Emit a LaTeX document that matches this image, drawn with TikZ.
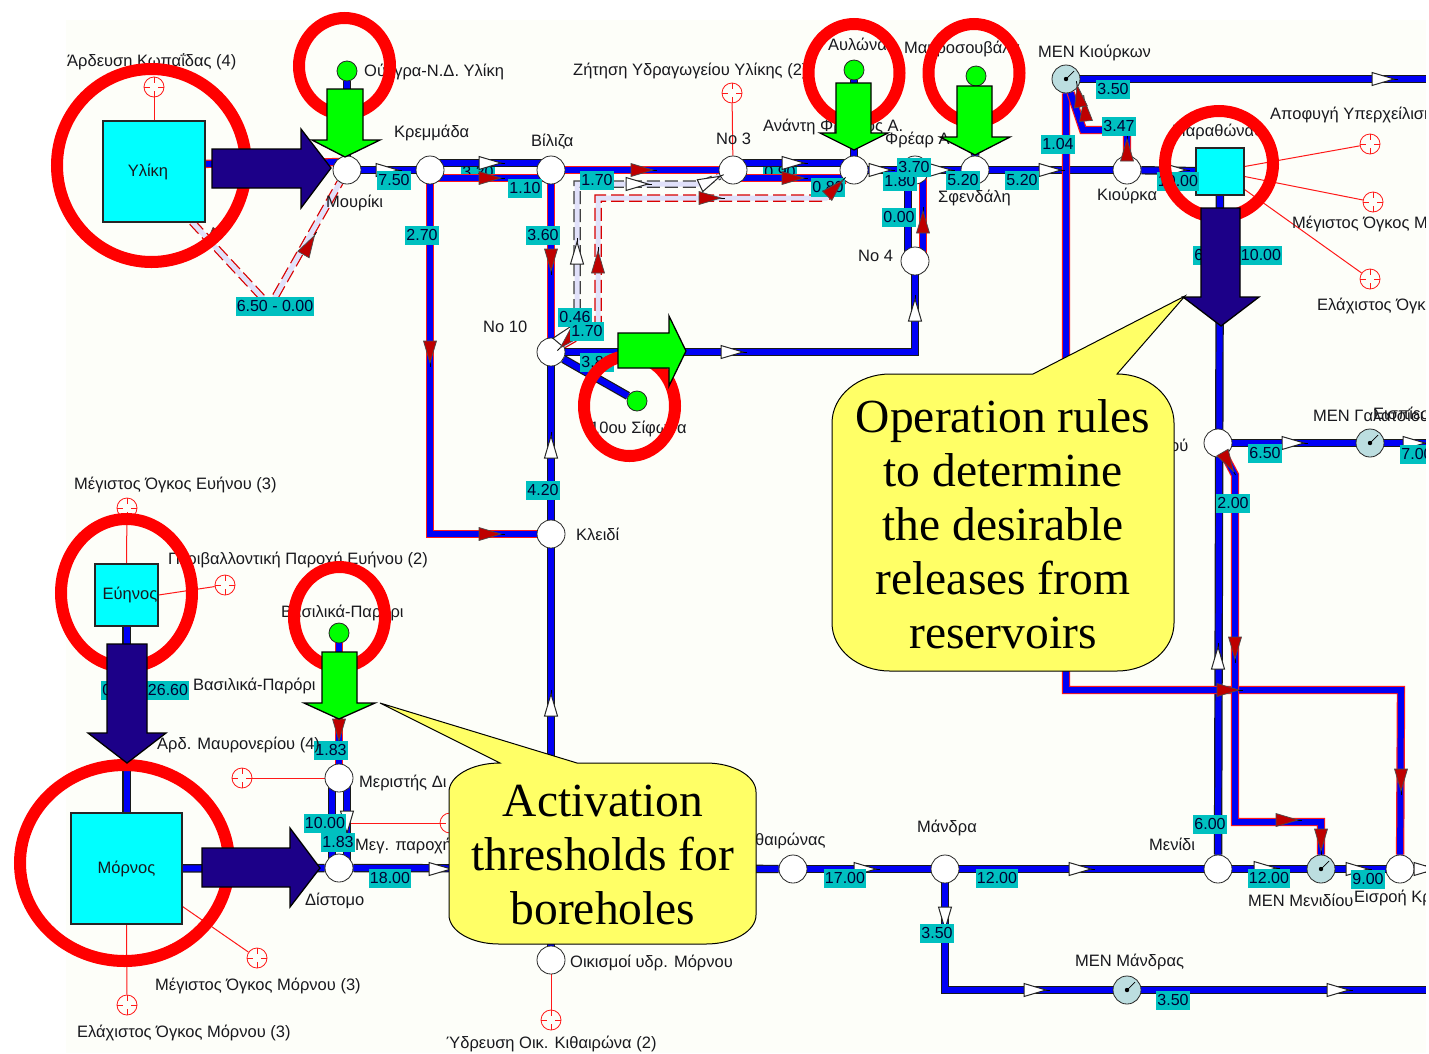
\documentclass[tikz,border=0pt]{standalone}
\usepackage{fontspec}
\setmainfont{Liberation Sans}
\newfontfamily\calloutfont{Liberation Serif}
\usetikzlibrary{backgrounds}
\definecolor{pblue}{RGB}{0,0,245}
\definecolor{pnavy}{RGB}{28,0,136}
\definecolor{pgreen}{RGB}{0,255,0}
\definecolor{pcyan}{RGB}{0,255,255}
\definecolor{pteal}{RGB}{0,192,192}
\definecolor{ppanel}{RGB}{253,254,249}
\definecolor{plav}{RGB}{225,225,250}
\definecolor{pmen}{RGB}{188,222,224}
\definecolor{ptipred}{RGB}{190,0,0}
\definecolor{pyellow}{RGB}{255,255,102}
\definecolor{ptext}{RGB}{25,25,30}
\pgfdeclarelayer{panel}\pgfdeclarelayer{under}\pgfdeclarelayer{pipes}
\pgfdeclarelayer{rings}\pgfdeclarelayer{arrows}\pgfdeclarelayer{callouts}
\pgfsetlayers{panel,under,pipes,main,rings,arrows,callouts}
\tikzset{
  junction/.style={circle,draw=black!85,fill=white,line width=.8pt,minimum size=28pt,inner sep=0pt},
  well/.style={circle,draw=black!85,fill=pgreen,line width=.8pt,minimum size=20pt,inner sep=0pt},
  menode/.style={circle,draw=black!85,fill=pmen,line width=.8pt,minimum size=28pt,inner sep=0pt,
    path picture={\fill[black] (path picture bounding box.center) circle (2.2pt);
      \draw[black,line width=.7pt] (path picture bounding box.center) -- ++(8pt,8pt);}},
  demand/.style={circle,draw=red!90!white,fill=ppanel,line width=.8pt,minimum size=20pt,inner sep=0pt,
    path picture={\draw[red!90!white,line width=.8pt]
      (path picture bounding box.north) -- ++(0,-6pt)
      (path picture bounding box.south) -- ++(0,6pt)
      (path picture bounding box.east) -- ++(-6pt,0)
      (path picture bounding box.west) -- ++(6pt,0);}},
  reservoir/.style={rectangle,draw=black!85,fill=pcyan,line width=1.1pt,inner sep=0pt,text=ptext,font=\fontsize{16.5}{19}\selectfont},
  bpipe/.style={draw=black!90,line width=1.2pt,double=pblue,double distance=6pt,line join=miter},
  rpipe/.style={draw=red!90!white,line width=1.2pt,double=pblue,double distance=6pt,line join=miter},
  dred/.style={preaction={draw=red!85!black,line width=7.5pt,dash pattern=on 13pt off 5pt},draw=plav,line width=5pt},
  dblack/.style={preaction={draw=black!75,line width=7.5pt,dash pattern=on 13pt off 5pt},draw=plav,line width=5pt},
  thin red/.style={draw=red!90!white,line width=1pt},
  ringline/.style={draw=red,line width=12pt},
  bignavy/.style={fill=pnavy,draw=black,line width=1.3pt,line join=miter},
  biggreen/.style={fill=pgreen,draw=black,line width=1.3pt,line join=miter},
  bubble/.style={fill=pyellow,draw=black,line width=1pt,line join=miter},
  bubbletext/.style={font=\calloutfont\fontsize{47.5}{54}\selectfont,align=center,inner sep=0pt,text=black},
  valbox/.style={fill=pteal,inner xsep=1pt,inner ysep=0pt,minimum height=19pt,text=black!80!blue,font=\fontsize{16}{17}\selectfont},
  lab/.style={inner sep=0pt,anchor=west,text=ptext,yshift=-1pt,font=\fontsize{16.5}{19}\selectfont},
  pics/wtip/.style={code={
    \draw[black,line width=.8pt] (8,0) -- (15,0);
    \draw[fill=white,draw=black!85,line width=1pt,line join=miter] (-11,-6.5) -- (-11,6.5) -- (11,0) -- cycle;}},
  pics/rtip/.style={code={
    \draw[black,line width=.8pt] (8,0) -- (15,0);
    \draw[fill=ptipred,draw=black!70,line width=.7pt,line join=miter] (-11,-6.5) -- (-11,6.5) -- (11,0) -- cycle;}},
}
\newcommand\val[3]{\node[valbox] (v-#1-#2) at (#1,#2) {#3};}
\newcommand\lbl[3]{\node[lab] (l-#1-#2) at (#1,#2) {#3};}
\newcommand\wt[3]{\pic[rotate=#3] at (#1,#2) {wtip};}
\newcommand\rt[3]{\pic[rotate=#3] at (#1,#2) {rtip};}
\begin{document}
\begin{tikzpicture}[x=1pt,y=-1pt]
\useasboundingbox (0,0) rectangle (1429,1053);
\begin{pgfonlayer}{panel}
  \fill[ppanel] (66,20) rectangle (1426,1053);
\end{pgfonlayer}

% ---------- hydrosystem nodes
\node[reservoir,minimum width=102pt,minimum height=101pt] (yliki) at (154,171.5) {\raisebox{-2pt}{Υλίκη}\kern12pt};
\node[reservoir,minimum width=48pt,minimum height=47pt] (marathon) at (1220,171.5) {};
\node[reservoir,minimum width=63pt,minimum height=62pt] (evinos) at (126.5,595) {\hspace{7pt}\raisebox{-2pt}{Εύηνος}};
\node[reservoir,minimum width=111pt,minimum height=111pt] (mornos) at (126.5,868.5) {Μόρνος};

\node[junction] (mouriki) at (347,170) {};
\node[junction] (kremmada) at (430,170) {};
\node[junction] (vilitsa) at (551,170) {};
\node[junction] (no3) at (733,170) {};
\node[junction] (anant) at (854,170) {};
\node[junction] (frear) at (915,170) {};
\node[junction] (sfendali) at (975,170) {};
\node[junction] (kiourka) at (1127,170) {};
\node[junction] (no4) at (915,261) {};
\node[junction] (no10) at (551,352) {};
\node[junction] (kleidi) at (551,534) {};
\node[junction] (psyx) at (1218,443) {};
\node[junction] (meristis) at (339,778) {};
\node[junction] (distomo) at (339,868) {};
\node[junction] (kith) at (793,869) {};
\node[junction] (mandra) at (945,869) {};
\node[junction] (menidi) at (1218,869) {};
\node[junction] (eisroi) at (1400,869) {};
\node[junction] (oikis) at (551,960) {};

\node[menode] (menkiourk) at (1066,79) {};
\node[menode] (mengal) at (1370,443) {};
\node[menode] (menmen) at (1321,869) {};
\node[menode] (menmand) at (1127,990) {};

\node[well] (wouggra) at (347,71) {};
\node[well] (wavlon) at (854,70) {};
\node[well] (wmavro) at (976,76) {};
\node[well] (wsifon) at (637,401) {};
\node[well] (wvasil) at (339,633) {};

\node[demand] (dkop) at (154,87) {};
\node[demand] (dzit) at (732,93) {};
\node[demand] (dapof) at (1370,144) {};
\node[demand] (dmaxm) at (1373,202) {};
\node[demand] (dminm) at (1370,279) {};
\node[demand] (dmaxe) at (127,508) {};
\node[demand] (dper) at (225,585) {};
\node[demand] (dmavr) at (242,778) {};
\node[demand] (dmaxmor) at (257,958) {};
\node[demand] (dminmor) at (127,1005) {};
\node[demand] (dmeg) at (450,823) {};
\node[demand] (dydr) at (551,1020) {};

\coordinate (rightKiourk) at (1432,79);
\coordinate (rightGal) at (1432,443);
\coordinate (rightEis) at (1432,869);
\coordinate (rightMand) at (1432,990);
\coordinate (bendA) at (430,534);
\coordinate (bendB) at (915,352);
\coordinate (bendC) at (945,990);
\coordinate (bendD) at (1066,690);
\coordinate (bendE) at (1401,690);
\coordinate (bendF1) at (1127,130);
\coordinate (bendF2) at (1083,130);
\coordinate (bendG1) at (1235,475);
\coordinate (bendG2) at (1235,822);
\coordinate (bendG3) at (1321,822);
\coordinate (dashA1) at (577,325);
\coordinate (dashA2) at (577,184);
\coordinate (dashA3) at (702,184);
\coordinate (dashB1) at (598,325);
\coordinate (dashB2) at (598,198);
\coordinate (dashB3) at (826,198);
\coordinate (dashC) at (270,306);
\coordinate (dashY) at (192,222);

% ---------- pipes, which lie under the nodes
\begin{pgfonlayer}{under}
  \val{478}{172}{3.20}
  \val{780}{172}{0.90}
\end{pgfonlayer}
\begin{pgfonlayer}{pipes}
  % thin demand lines
  \draw[thin red] (yliki.north) -- (dkop);
  \draw[thin red] (no3) -- (dzit);
  \draw[thin red] ([yshift=5pt]marathon.east) -- (dapof);
  \draw[thin red] ([yshift=-5pt]marathon.east) -- (dmaxm);
  \draw[thin red] ([yshift=-18pt]marathon.east) -- (dminm);
  \draw[thin red] (evinos.north) -- (dmaxe);
  \draw[thin red] (evinos.east) -- (dper);
  \draw[thin red] (meristis) -- (dmavr);
  \draw[thin red] (mornos.south) -- (dminmor);
  \draw[thin red] ([yshift=-38pt]mornos.east) -- (dmaxmor);
  \draw[thin red] ([xshift=8pt,yshift=45pt]distomo.center) -- (dmeg);
  \draw[thin red] (oikis) -- (dydr);
  % dashed pipes
  \draw[dred] (dashY) -- (dashC) -- (mouriki);
  \draw[dblack] (no10) -- (dashA1) -- (dashA2) -- (dashA3) -- (no3);
  \draw[dred] (no10) -- (dashB1) -- (dashB2) -- (dashB3) -- (anant);
  % plain pipes
  \draw[bpipe] (mouriki) -- (kremmada);
  \draw[bpipe] ([yshift=7pt]kremmada.center) -- ([yshift=7pt]vilitsa.center);
  \draw[bpipe] ([yshift=7pt]no3.center) -- ([yshift=7pt]anant.center);
  \draw[bpipe] (anant) -- (frear);
  \draw[bpipe] (frear) -- (sfendali);
  \draw[bpipe] (sfendali) -- (kiourka);
  \draw[bpipe] (kiourka) -- (marathon);
  \draw[bpipe] (wouggra) -- (mouriki);
  \draw[bpipe] (wavlon) -- (anant);
  \draw[bpipe] (wmavro) -- (sfendali);
  \draw[bpipe] (no10) -- (bendB) -- (no4);
  \draw[bpipe] ([xshift=-7pt]no4.center) -- ([xshift=-7pt]frear.center);
  \draw[bpipe] (no10) -- (wsifon);
  \draw[bpipe] (no10) -- (kleidi);
  \draw[bpipe] (kleidi) -- (oikis);
  \draw[bpipe] (menkiourk) -- (rightKiourk);
  \draw[bpipe] (marathon) -- (menidi);
  \draw[bpipe] (psyx) -- (mengal);
  \draw[bpipe] (mengal) -- (rightGal);
  \draw[bpipe] (evinos) -- (mornos);
  \draw[bpipe] (mornos) -- (distomo);
  \draw[bpipe] (distomo) -- (kith);
  \draw[bpipe] (kith) -- (mandra);
  \draw[bpipe] (mandra) -- (menidi);
  \draw[bpipe] (menidi) -- (menmen);
  \draw[bpipe] (menmen) -- (eisroi);
  \draw[bpipe] (eisroi) -- (rightEis);
  \draw[bpipe] (mandra) -- (bendC) -- (menmand);
  \draw[bpipe] (menmand) -- (rightMand);
  \draw[bpipe] ([xshift=-7pt]meristis.center) -- ([xshift=-7pt]distomo.center);
  \draw[bpipe] ([xshift=8pt]meristis.center) -- ([xshift=8pt]distomo.center);
  % pipes with a red edge
  \draw[rpipe] ([yshift=7pt]yliki.center) -- ([yshift=8pt]mouriki.center);
  \draw[rpipe] ([yshift=-8pt]kremmada.center) -- ([yshift=-8pt]vilitsa.center);
  \draw[rpipe] (vilitsa) -- (no3);
  \draw[rpipe] ([yshift=-8pt]no3.center) -- ([yshift=-8pt]anant.center);
  \draw[rpipe] (kremmada) -- (bendA) -- (kleidi);
  \draw[rpipe] (vilitsa) -- (no10);
  \draw[rpipe] ([xshift=8pt]no4.center) -- ([xshift=8pt]frear.center);
  \draw[rpipe] (wvasil) -- (meristis);
  \draw[rpipe] (menkiourk) -- (bendD) -- (bendE) -- (eisroi);
  \draw[rpipe] (kiourka) -- (bendF1) -- (bendF2) -- (menkiourk);
  \draw[rpipe] (psyx) -- (bendG1) -- (bendG2) -- (bendG3) -- (menmen);
\end{pgfonlayer}

% ---------- small flow arrowheads
\wt{387}{170}{0}\wt{490}{163}{0}\wt{793}{163}{0}\wt{880}{170}{0}\wt{940}{170}{0}\wt{1050}{170}{0}
\wt{1175}{170}{0}\wt{1383}{79}{0}\wt{577}{253}{90}\wt{637}{184}{0}\wt{710}{181}{25}\wt{565}{334}{50}
\wt{732}{352}{0}\wt{915}{310}{90}\wt{551}{447}{90}\wt{551}{705}{90}\wt{1293}{443}{0}\wt{1414}{443}{0}
\wt{1218}{658}{90}\wt{440}{869}{0}\wt{865}{869}{0}\wt{1080}{869}{0}\wt{1265}{868}{0}\wt{1357}{869}{0}
\wt{1425}{869}{0}\wt{945}{918}{-90}\wt{1035}{990}{0}\wt{1338}{990}{0}\wt{347}{822}{-90}
\rt{490}{178}{0}\rt{642}{170}{0}\rt{793}{178}{0}\rt{430}{352}{-90}\rt{490}{534}{0}\rt{551}{260}{-90}
\rt{710}{198}{0}\rt{598}{262}{90}\rt{568}{340}{-135}\rt{309}{245}{60}\rt{211}{240}{-130}
\rt{923}{222}{90}\rt{1127}{150}{90}\rt{1085}{110}{95}\rt{1079}{96}{100}\rt{1228}{690}{0}\rt{1401}{780}{-90}
\rt{1235}{648}{-90}\rt{1287}{820}{0}\rt{1321}{840}{-90}\rt{1228}{462}{-60}\rt{339}{730}{-90}

% ---------- values
\val{394}{180}{7.50}\val{525}{188}{1.10}\val{597}{180}{1.70}\val{828}{187}{0.80}\val{900}{181}{1.80}
\val{914}{167}{3.70}\val{963}{180}{5.20}\val{1022}{180}{5.20}\val{1113}{89}{3.50}\val{1119}{126}{3.47}
\val{1058}{144}{1.04}\val{1178}{181}{10.00}\val{1210}{255}{6.50}\val{1261}{255}{10.00}\val{1265}{453}{6.50}
\val{1417}{454}{7.00}\val{1233}{503}{2.00}\val{1210}{824}{6.00}\val{1269}{878}{12.00}\val{1368}{879}{9.00}
\val{1173}{1000}{3.50}\val{997}{878}{12.00}\val{845}{878}{17.00}\val{937}{933}{3.50}\val{390}{878}{18.00}
\val{325}{823}{10.00}\val{338}{842}{1.83}\val{331}{750}{1.83}\val{168}{690}{26.60}\val{118}{690}{0.00}
\val{422}{235}{2.70}\val{543}{235}{3.60}\val{543}{490}{4.20}\val{575}{317}{0.46}\val{587}{331}{1.70}
\val{597}{362}{3.80}\val{275}{306}{6.50 - 0.00}\val{899}{217}{0.00}
\rt{835}{188}{45}

% ---------- labels
\lbl{67}{61}{Άρδευση Κωπαΐδας (4)}
\lbl{364}{71}{Ούγγρα-Ν.Δ. Υλίκη}
\lbl{394}{132}{Κρεμμάδα}
\lbl{326}{202}{Μουρίκι}
\lbl{531}{141}{Βίλιζα}
\lbl{573}{70}{Ζήτηση Υδραγωγείου Υλίκης (2)}
\lbl{716}{138}{No 3}
\lbl{828}{45}{Αυλώνας}
\lbl{763}{126}{Ανάντη Φρέατος Α.}
\lbl{885}{139}{Φρέαρ Α}
\lbl{904}{48}{Μαυροσουβάλα}
\lbl{1038}{52}{ΜΕΝ Κιούρκων}
\lbl{1270}{114}{Αποφυγή Υπερχείλισης}
\lbl{1172}{131}{Μαραθώνας}
\lbl{1097}{195}{Κιούρκα}
\lbl{938}{197}{Σφενδάλη}
\lbl{1292}{223}{Μέγιστος Όγκος Μαραθώνα}
\lbl{1317}{305}{Ελάχιστος Όγκος Μαραθώνα}
\lbl{858}{255}{No 4}
\lbl{483}{326}{No 10}
\lbl{590}{428}{10ου Σίφωνα}
\lbl{576}{533}{Κλειδί}
\lbl{1170}{444}{ού}
\lbl{1313}{414}{ΜΕΝ Γαλατσίου}
\lbl{1373}{414}{Εισπίεσή}
\lbl{74}{484}{Μέγιστος Όγκος Ευήνου (3)}
\lbl{168}{559}{Περιβαλλοντική Παροχή Ευήνου (2)}
\lbl{281}{612}{Βασιλικά-Παρόρι}
\lbl{193}{685}{Βασιλικά-Παρόρι}
\lbl{157}{744}{Αρδ. Μαυρονερίου (4)}
\lbl{359}{782}{Μεριστής Δι}
\lbl{355}{845}{Μεγ. παροχή}
\lbl{305}{900}{Δίστομο}
\lbl{155}{985}{Μέγιστος Όγκος Μόρνου (3)}
\lbl{77}{1032}{Ελάχιστος Όγκος Μόρνου (3)}
\lbl{570}{962}{Οικισμοί υδρ. Μόρνου}
\lbl{446}{1043}{Ύδρευση Οικ. Κιθαιρώνα (2)}
\lbl{755}{840}{θαιρώνας}
\lbl{917}{827}{Μάνδρα}
\lbl{1149}{843}{Μενίδι}
\lbl{1248}{899}{ΜΕΝ Μενιδίου}
\lbl{1354}{897}{Εισροή Κρ}
\lbl{1075}{961}{ΜΕΝ Μάνδρας}

% ---------- red rings
\begin{pgfonlayer}{rings}
  \draw[ringline] (151.5,165.5) ellipse [x radius=94.5pt,y radius=96.5pt];
  \draw[ringline] (344.5,66) ellipse [x radius=45.5pt,y radius=48pt];
  \draw[ringline] (854,73) ellipse [x radius=45.5pt,y radius=49pt];
  \draw[ringline] (974,73) ellipse [x radius=45.5pt,y radius=49pt];
  \draw[ringline] (1219,164) ellipse [x radius=54pt,y radius=53pt];
  \draw[ringline] (629.5,406) ellipse [x radius=45.5pt,y radius=50pt];
  \draw[ringline] (126.5,593) ellipse [x radius=65.5pt,y radius=74pt];
  \draw[ringline] (339.5,617) ellipse [x radius=45.5pt,y radius=50pt];
  \draw[ringline] (124.5,863) ellipse [x radius=104.5pt,y radius=98pt];
\end{pgfonlayer}

% ---------- block arrows
\begin{pgfonlayer}{arrows}
  \draw[bignavy] (212,149) -- (301,149) -- (301,129) -- (331,168) -- (301,208) -- (301,188) -- (212,188) -- cycle;
  \draw[biggreen] (327,89) -- (363,89) -- (363,140) -- (380,140) -- (345,157) -- (312,140) -- (327,140) -- cycle;
  \draw[biggreen] (836,83) -- (871,83) -- (871,133) -- (888,133) -- (854,150) -- (820,133) -- (836,133) -- cycle;
  \draw[biggreen] (957,86) -- (992,86) -- (992,137) -- (1010,137) -- (975,155) -- (940,137) -- (957,137) -- cycle;
  \draw[biggreen] (618,333) -- (669,333) -- (669,316) -- (686,351) -- (669,386) -- (669,368) -- (618,368) -- cycle;
  \draw[bignavy] (1201,208) -- (1240,208) -- (1240,297) -- (1259,297) -- (1221,326) -- (1183,297) -- (1201,297) -- cycle;
  \draw[bignavy] (107,644) -- (147,644) -- (147,733) -- (166,733) -- (127,763) -- (88,733) -- (107,733) -- cycle;
  \draw[biggreen] (322,652) -- (357,652) -- (357,703) -- (375,703) -- (339,719) -- (304,703) -- (322,703) -- cycle;
  \draw[bignavy] (202,848) -- (290,848) -- (290,828) -- (320,868) -- (290,907) -- (290,887) -- (202,887) -- cycle;
\end{pgfonlayer}

% ---------- speech bubbles
\begin{pgfonlayer}{callouts}
  \draw[bubble] (890,374) -- (1033,374) -- (1185,296) -- (1117,374)
    arc [start angle=90,end angle=0,x radius=57pt,y radius=49pt] -- (1174,623)
    arc [start angle=0,end angle=-90,x radius=57pt,y radius=48pt] -- (890,671)
    arc [start angle=-90,end angle=-180,x radius=58pt,y radius=48pt] -- (832,423)
    arc [start angle=180,end angle=90,x radius=58pt,y radius=49pt] -- cycle;
  \node[bubbletext] (ruletext) at (1003,524) {Operation rules\\to determine\\the desirable\\releases from\\reservoirs};
  \draw[bubble] (500,763) -- (380,703) -- (577,763) -- (706,763)
    arc [start angle=90,end angle=0,x radius=50pt,y radius=29pt] -- (756,915)
    arc [start angle=0,end angle=-90,x radius=50pt,y radius=29pt] -- (499,944)
    arc [start angle=-90,end angle=-180,x radius=50pt,y radius=29pt] -- (449,792)
    arc [start angle=180,end angle=90,x radius=51pt,y radius=29pt] -- cycle;
  \node[bubbletext] (thresholdtext) at (603,855) {Activation\\thresholds for\\boreholes};
  \fill[white] (1426,0) rectangle (1429,1053);
\end{pgfonlayer}
\end{tikzpicture}
\end{document}
